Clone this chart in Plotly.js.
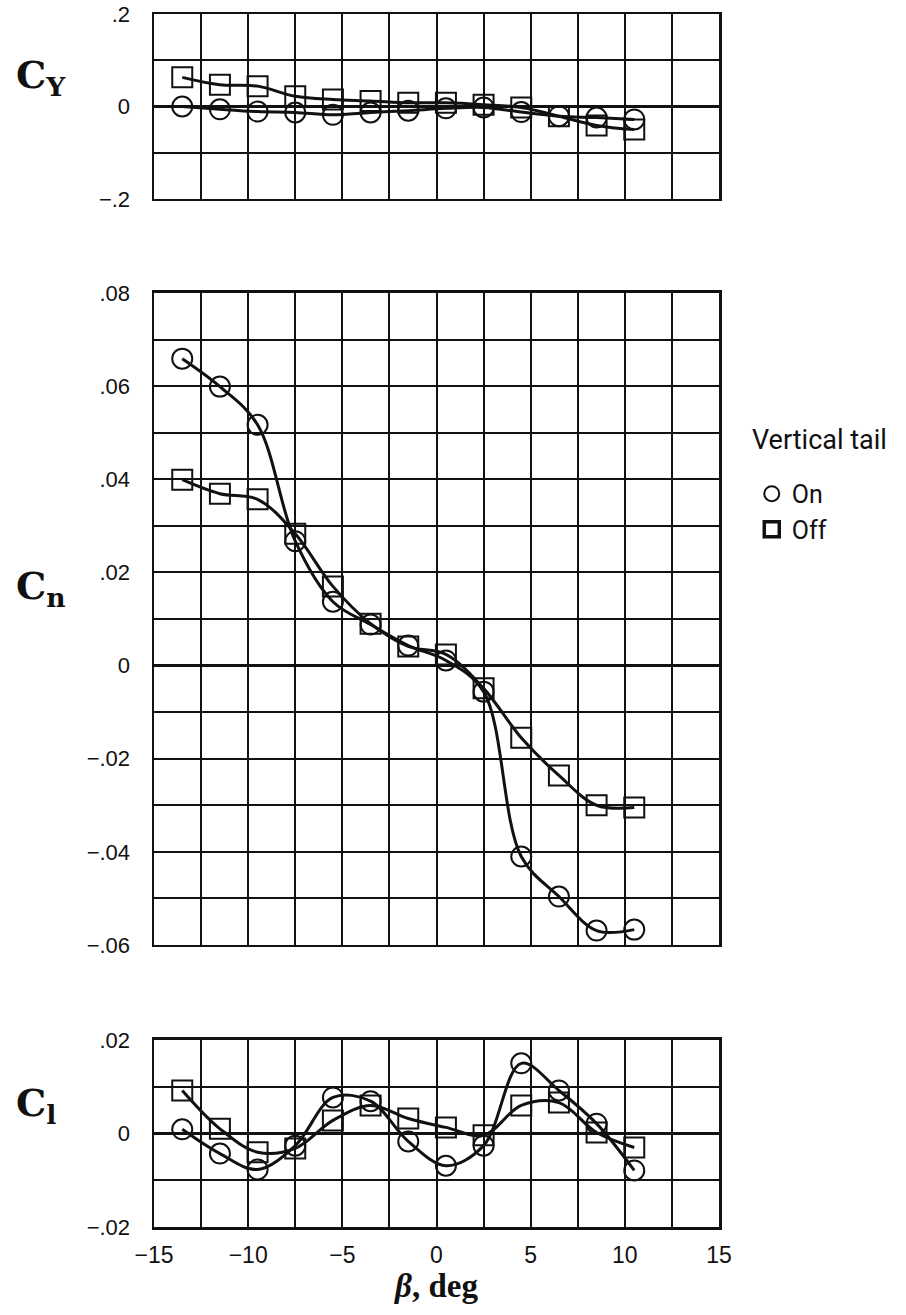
<!DOCTYPE html>
<html>
<head>
<meta charset="utf-8">
<script src="https://cdn.plot.ly/plotly-3.0.1.min.js"></script>
<style>html,body{margin:0;padding:0;background:#fff;}#chart{width:906px;height:1315px;}</style>
</head>
<body>
<div id="chart"></div>
<script>
// Sideslip angle, deg
const beta = [-13.5, -11.5, -9.5, -7.5, -5.5, -3.5, -1.5, 0.5, 2.5, 4.5, 6.5, 8.5, 10.5];

// Side-force coefficient C_Y
const cyOn  = [0.000, -0.006, -0.011, -0.013, -0.018, -0.013, -0.009, -0.004, -0.002, -0.012, -0.021, -0.024, -0.028];
const cyOff = [0.063, 0.047, 0.044, 0.022, 0.015, 0.012, 0.008, 0.008, 0.004, -0.002, -0.021, -0.041, -0.050];

// Yawing-moment coefficient C_n
const cnOn  = [0.0659, 0.0599, 0.0517, 0.0267, 0.0137, 0.0088, 0.0043, 0.0011, -0.0056, -0.0410, -0.0496, -0.0569, -0.0567];
const cnOff = [0.0399, 0.0369, 0.0357, 0.0283, 0.0170, 0.0090, 0.0041, 0.0024, -0.0049, -0.0155, -0.0236, -0.0300, -0.0305];

// Rolling-moment coefficient C_l
const clOn  = [0.0009, -0.0043, -0.0077, -0.0026, 0.0077, 0.0069, -0.0017, -0.0069, -0.0026, 0.0150, 0.0092, 0.0021, -0.0079];
const clOff = [0.0092, 0.0010, -0.0040, -0.0032, 0.0028, 0.0060, 0.0032, 0.0013, -0.0004, 0.0060, 0.0066, 0.0002, -0.0030];

const xTickVals = [-15, -10, -5, 0, 5, 10, 15];
const xTickText = ['\u221215', '\u221210', '\u22125', '0', '5', '10', '15'];
const cyTickVals = [0.2, 0, -0.2];
const cyTickText = ['.2', '0', '\u2212.2'];
const cnTickVals = [0.08, 0.06, 0.04, 0.02, 0, -0.02, -0.04, -0.06];
const cnTickText = ['.08', '.06', '.04', '.02', '0', '\u2212.02', '\u2212.04', '\u2212.06'];
const clTickVals = [0.02, 0, -0.02];
const clTickText = ['.02', '0', '\u2212.02'];

const seriesNames = ['On', 'Off'];
const legendTitle = 'Vertical tail';

const INK = '#111';
function curve(y, sym, xa, ya) {
  return {
    x: beta, y: y, xaxis: xa, yaxis: ya, type: 'scatter', mode: 'lines+markers',
    line: {color: INK, width: 3, shape: 'spline', smoothing: 1},
    marker: {symbol: sym, size: 20, color: INK, line: {color: INK, width: 2}},
    showlegend: false, hoverinfo: 'x+y'
  };
}

const traces = [
  curve(cyOn, 'circle-open', 'x3', 'y3'),
  curve(cyOff, 'square-open', 'x3', 'y3'),
  curve(cnOn, 'circle-open', 'x2', 'y2'),
  curve(cnOff, 'square-open', 'x2', 'y2'),
  curve(clOn, 'circle-open', 'x', 'y'),
  curve(clOff, 'square-open', 'x', 'y'),
  {x: [null], y: [null], xaxis: 'x2', yaxis: 'y2', type: 'scatter', mode: 'markers', name: seriesNames[0],
   marker: {symbol: 'circle-open', size: 15, color: INK, line: {color: INK, width: 2}}, showlegend: true},
  {x: [null], y: [null], xaxis: 'x2', yaxis: 'y2', type: 'scatter', mode: 'markers', name: seriesNames[1],
   marker: {symbol: 'square-open', size: 15, color: INK, line: {color: INK, width: 3.5}}, showlegend: true}
];

const tickFont = {family: 'Liberation Sans, Arial, sans-serif', size: 22, color: INK};

function xa(show, anchor) {
  return {
    range: [-15, 15], anchor: anchor,
    showgrid: true, gridcolor: INK, gridwidth: 2,
    zeroline: false, showline: true, linecolor: INK, linewidth: 2.5, mirror: true,
    tickmode: 'array', tickvals: xTickVals, ticktext: xTickText,
    showticklabels: show, ticks: '', tickfont: {family: 'Liberation Sans, Arial, sans-serif', size: 23, color: INK},
    ticklabelstandoff: 6, ticklabeloverflow: 'allow', fixedrange: true,
    minor: {dtick: 2.5, tick0: -15, showgrid: true, gridcolor: INK, gridwidth: 2}
  };
}
function ya(range, minorStep, vals, text, domain, anchor) {
  return {
    range: range, domain: domain, anchor: anchor,
    showgrid: true, gridcolor: INK, gridwidth: 2,
    zeroline: true, zerolinecolor: INK, zerolinewidth: 3.5,
    showline: true, linecolor: INK, linewidth: 2.5, mirror: true,
    tickmode: 'array', tickvals: vals, ticktext: text, ticks: '',
    tickfont: tickFont, ticklabelstandoff: 17, ticklabeloverflow: 'allow', fixedrange: true,
    minor: {dtick: minorStep, tick0: 0, showgrid: true, gridcolor: INK, gridwidth: 2}
  };
}

const labFont = {family: 'DejaVu Serif, Liberation Serif, serif', size: 38, color: INK};
const legFont = {family: 'Roboto, Liberation Sans, sans-serif', size: 25, color: INK};

function coefLabel(text, y) {
  return {xref: 'paper', yref: 'paper', x: -0.248, y: y, xanchor: 'left', yanchor: 'middle',
          text: text, showarrow: false, font: labFont};
}

const layout = {
  width: 906, height: 1315,
  margin: {l: 154, r: 187, t: 14, b: 88},
  paper_bgcolor: '#fff', plot_bgcolor: '#fff',
  showlegend: true,
  legend: {
    x: 1.058, y: 0.6233, xanchor: 'left', yanchor: 'top',
    font: legFont, bgcolor: 'rgba(0,0,0,0)', itemwidth: 30, tracegroupgap: 0
  },
  xaxis: Object.assign(xa(true, 'y'), {
    title: {text: '<b><i>\u03B2</i>, deg</b>', standoff: 4,
            font: {family: 'Liberation Serif, Times New Roman, serif', size: 33, color: INK}}
  }),
  xaxis2: Object.assign(xa(false, 'y2'), {matches: 'x'}),
  xaxis3: Object.assign(xa(false, 'y3'), {matches: 'x'}),
  yaxis: ya([-0.02, 0.02], 0.01, clTickVals, clTickText, [0, 0.1542], 'x'),
  yaxis2: ya([-0.06, 0.08], 0.01, cnTickVals, cnTickText, [0.2325, 0.7700], 'x2'),
  yaxis3: ya([-0.2, 0.2], 0.1, cyTickVals, cyTickText, [0.8475, 1], 'x3'),
  annotations: [
    coefLabel('<b>C<sub>Y</sub></b>', 0.948),
    coefLabel('<b>C<sub>n</sub></b>', 0.5268),
    coefLabel('<b>C<sub>l</sub></b>', 0.1006),
    {xref: 'paper', yref: 'paper', x: 1.055, y: 0.6488, xanchor: 'left', yanchor: 'middle', text: legendTitle, showarrow: false,
     font: {family: 'Roboto, Liberation Sans, sans-serif', size: 27, color: INK}}
  ]
};

Plotly.newPlot('chart', traces, layout, {staticPlot: true, displayModeBar: false});
</script>
</body>
</html>
